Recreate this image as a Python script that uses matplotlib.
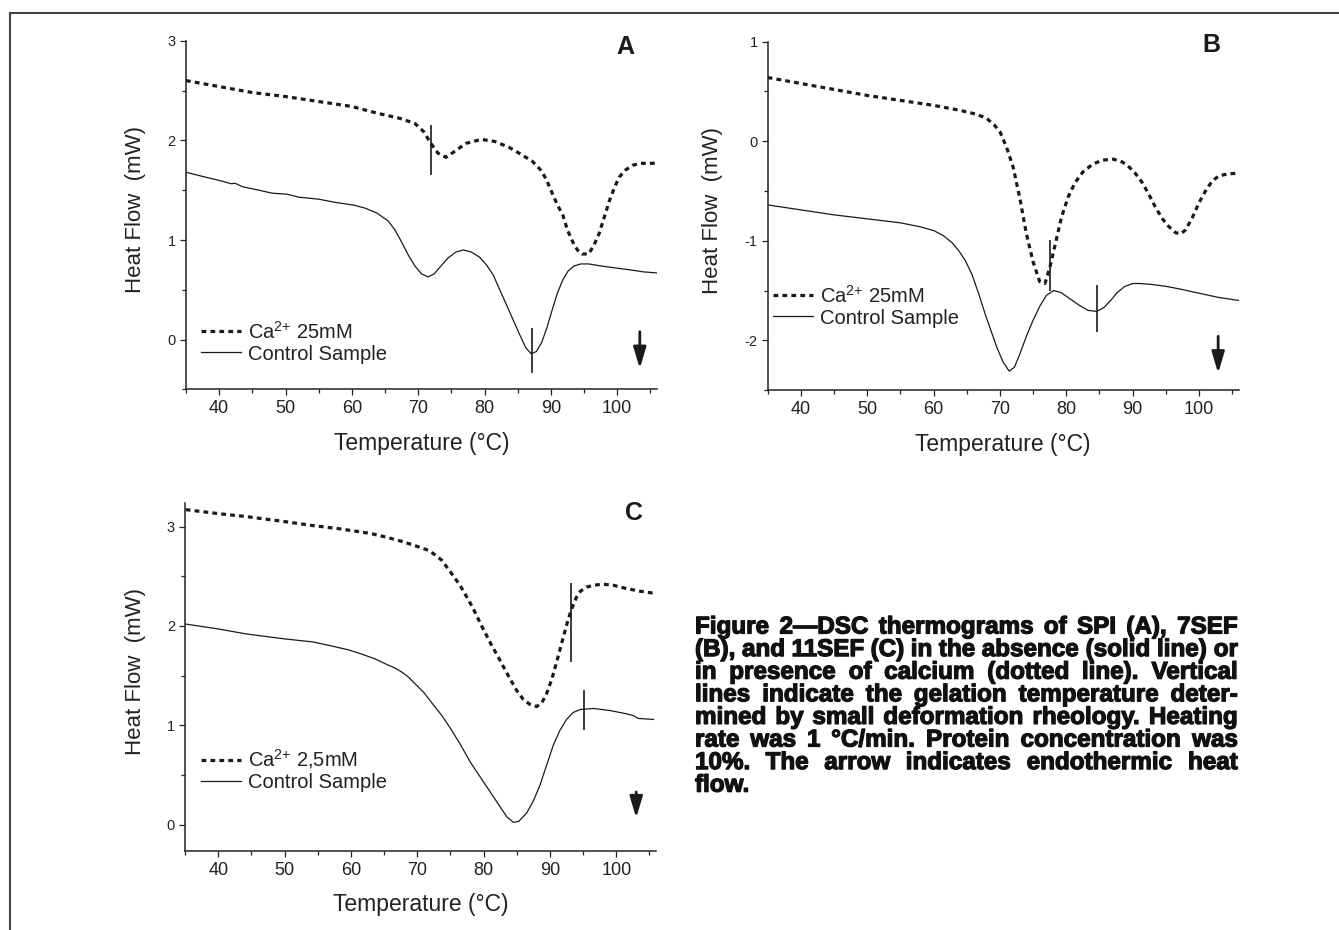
import matplotlib
matplotlib.use("Agg")
import matplotlib.pyplot as plt
import matplotlib.patheffects as pe
from matplotlib.lines import Line2D
from matplotlib.ticker import MultipleLocator

plt.rcParams['font.family'] = ['Liberation Sans', 'DejaVu Sans']
plt.rcParams['mathtext.default'] = 'regular'
plt.rcParams['axes.unicode_minus'] = False

INK = '#1a1a1a'

# ---- Panel A (SPI), Ca2+ 25 mM ----
a_ca_t = [35, 40, 45, 50, 55, 60, 64, 67.3, 69.5, 70.8, 71.9, 73, 74.2, 75.5, 77.2,
          79.5, 81.5, 83.7, 85.5, 87.2, 88.5, 89.3, 90.2, 91, 91.8, 92.5, 93.3, 94,
          94.7, 95.7, 96.5, 97.3, 98, 98.8, 99.6, 100.3, 101.2, 102.3, 103.5, 106]
a_ca_hf = [2.60, 2.54, 2.48, 2.44, 2.39, 2.34, 2.27, 2.22, 2.17, 2.09, 1.97, 1.87, 1.83,
           1.89, 1.97, 2.01, 1.99, 1.93, 1.86, 1.79, 1.70, 1.61, 1.47, 1.35, 1.25, 1.10,
           0.98, 0.90, 0.86, 0.86, 0.95, 1.07, 1.22, 1.39, 1.53, 1.63, 1.70, 1.75, 1.77, 1.77]
a_ctrl_t = [35, 38, 40.5, 41.8, 42.4, 43.5, 46, 48, 50.2, 52, 55, 57.3, 60.3, 62, 63.8,
            65.5, 66.5, 67.5, 68.5, 69.5, 70.5, 71.5, 72.4, 73.3, 74.5, 75.7, 76.8, 78,
            79.2, 80.3, 81.3, 82.3, 83.3, 84.3, 85.3, 86.2, 87, 87.8, 88.6, 89.4, 90.2,
            91, 91.8, 92.6, 93.5, 94.5, 95.7, 97.5, 99.7, 102, 104, 106]
a_ctrl_hf = [1.68, 1.63, 1.59, 1.565, 1.57, 1.535, 1.50, 1.47, 1.46, 1.43, 1.41, 1.38, 1.35,
             1.32, 1.27, 1.19, 1.10, 0.98, 0.85, 0.74, 0.66, 0.63, 0.66, 0.73, 0.82, 0.88,
             0.90, 0.88, 0.83, 0.75, 0.65, 0.50, 0.35, 0.20, 0.05, -0.08, -0.14, -0.12,
             -0.03, 0.12, 0.30, 0.47, 0.60, 0.69, 0.74, 0.76, 0.76, 0.74, 0.72, 0.70, 0.68, 0.67]

# ---- Panel B (7SEF), Ca2+ 25 mM ----
b_ca_t = [35, 40, 45, 50, 55, 60, 64, 66.5, 68, 69.2, 70.05, 71, 72, 73, 74, 75, 76, 76.8,
          77.6, 78.4, 79.3, 80.3, 81.3, 82.5, 84, 85.5, 87.1, 88.5, 89.5, 90.5, 91.5, 92.5,
          93.5, 94.5, 95.5, 96.5, 97.3, 98, 99, 100, 101, 102, 103, 104.2, 106]
b_ca_hf = [0.64, 0.58, 0.52, 0.46, 0.41, 0.36, 0.31, 0.27, 0.23, 0.16, 0.09, -0.06, -0.26,
           -0.57, -0.93, -1.21, -1.41, -1.43, -1.25, -1.02, -0.76, -0.56, -0.42, -0.31,
           -0.23, -0.19, -0.18, -0.21, -0.26, -0.33, -0.42, -0.54, -0.67, -0.78, -0.86,
           -0.92, -0.93, -0.89, -0.77, -0.62, -0.50, -0.40, -0.35, -0.33, -0.32]
b_ctrl_t = [35, 40, 45, 50, 55, 58, 60.1, 61.5, 62.8, 63.8, 64.8, 65.8, 66.8, 67.8, 68.8,
            69.6, 70.5, 71.4, 72.2, 73, 74, 75, 76, 77, 78.1, 79.2, 80.5, 82, 83.3, 84.6,
            85.7, 86.7, 87.7, 88.8, 90, 91.2, 93, 95.2, 97.5, 100.2, 103, 106]
b_ctrl_hf = [-0.64, -0.69, -0.74, -0.78, -0.82, -0.86, -0.90, -0.95, -1.02, -1.10, -1.20,
             -1.34, -1.53, -1.74, -1.93, -2.08, -2.22, -2.31, -2.27, -2.14, -1.96, -1.80,
             -1.66, -1.55, -1.50, -1.52, -1.58, -1.65, -1.70, -1.71, -1.67, -1.60, -1.52,
             -1.46, -1.43, -1.43, -1.44, -1.46, -1.49, -1.53, -1.57, -1.60]

# ---- Panel C (11SEF), Ca2+ 2.5 mM ----
c_ca_t = [35.1, 40, 44.2, 50, 54.2, 58, 63, 65.5, 67.7, 70, 71.7, 72.8, 73.7, 74.7, 75.7,
          76.7, 78.4, 79.7, 81.1, 82.5, 83.8, 85, 86, 87, 88, 88.8, 89.5, 90.3, 91.1, 91.9,
          92.6, 93.2, 94, 94.6, 95.5, 96.6, 98, 99.5, 101.3, 103.5, 105.6]
c_ca_hf = [3.17, 3.13, 3.10, 3.05, 3.01, 2.98, 2.93, 2.89, 2.85, 2.80, 2.76, 2.71, 2.66,
           2.57, 2.48, 2.38, 2.18, 2.00, 1.82, 1.65, 1.49, 1.35, 1.26, 1.21, 1.19, 1.23,
           1.32, 1.47, 1.66, 1.86, 2.03, 2.16, 2.29, 2.35, 2.39, 2.41, 2.42, 2.41, 2.38,
           2.35, 2.33]
c_ctrl_t = [35, 40, 44.2, 50, 54.2, 57, 59.6, 61.5, 63.6, 65.5, 66.7, 67.7, 68.6, 69.5, 71,
            72.5, 73.7, 75, 76.4, 78, 79.8, 81.2, 82.5, 83.5, 84.5, 85.3, 86.5, 87.5, 88.5,
            89.5, 90.5, 91.5, 92.5, 93.5, 94.6, 96.6, 99, 101.3, 102.5, 103.3, 105.6]
c_ctrl_hf = [2.02, 1.97, 1.92, 1.87, 1.84, 1.80, 1.76, 1.72, 1.67, 1.61, 1.575, 1.535, 1.49,
             1.43, 1.33, 1.20, 1.10, 0.97, 0.82, 0.63, 0.45, 0.31, 0.18, 0.08, 0.025, 0.035,
             0.12, 0.24, 0.40, 0.60, 0.80, 0.95, 1.06, 1.13, 1.16, 1.17, 1.15, 1.12, 1.10,
             1.07, 1.06]

# gelation temperatures (vertical markers): [Ca, control] -> T, low, high
a_gel_t, a_gel_lo, a_gel_hi = [71.9, 87.2], [1.65, -0.33], [2.15, 0.12]
b_gel_t, b_gel_lo, b_gel_hi = [77.6, 84.6], [-1.50, -1.92], [-0.99, -1.44]
c_gel_t, c_gel_lo, c_gel_hi = [93.1, 95.1], [1.64, 0.95], [2.43, 1.36]

# endothermic arrow: T, tail, tip
a_arrow = [103.4, 0.08, -0.29]
b_arrow = [102.9, -1.96, -2.33]
c_arrow = [103.0, 0.33, 0.07]

CA_SUP = '$^{2{+}}$'
panels = [
    dict(letter='A', ca_label='Ca' + CA_SUP + ' 25mM', ca=(a_ca_t, a_ca_hf),
         ctrl=(a_ctrl_t, a_ctrl_hf), gel=(a_gel_t, a_gel_lo, a_gel_hi), arrow=a_arrow,
         ylim=(-0.5, 3), yt=[0, 1, 2, 3], rect=[0.1389, 0.5812, 0.3518, 0.3750],
         ylab_x=-0.108, leg=(0.031, 0.136), letter_xy=(0.932, 0.982)),
    dict(letter='B', ca_label='Ca' + CA_SUP + ' 25mM', ca=(b_ca_t, b_ca_hf),
         ctrl=(b_ctrl_t, b_ctrl_hf), gel=(b_gel_t, b_gel_lo, b_gel_hi), arrow=b_arrow,
         ylim=(-2.5, 1), yt=[-2, -1, 0, 1], rect=[0.5733, 0.5806, 0.3518, 0.3746],
         ylab_x=-0.117, leg=(0.011, 0.241), letter_xy=(0.943, 0.99)),
    dict(letter='C', ca_label='Ca' + CA_SUP + ' 2,5mM', ca=(c_ca_t, c_ca_hf),
         ctrl=(c_ctrl_t, c_ctrl_hf), gel=(c_gel_t, c_gel_lo, c_gel_hi), arrow=c_arrow,
         ylim=(-0.26, 3.24), yt=[0, 1, 2, 3], rect=[0.1382, 0.0853, 0.3518, 0.3742],
         ylab_x=-0.106, leg=(0.033, 0.232), letter_xy=(0.953, 0.970)),
]

W, H = 1339, 930
fig = plt.figure(figsize=(W / 100, H / 100), dpi=100)

for p in panels:
    ax = fig.add_axes(p['rect'])
    ax.plot(*p['ca'], color=INK, lw=2.3, dashes=(1.5, 1.3), label=p['ca_label'])
    ax.plot(*p['ctrl'], color=INK, lw=0.9, label='Control Sample')
    ax.vlines(p['gel'][0], p['gel'][1], p['gel'][2], color=INK, lw=1.2)
    t, tail, tip = p['arrow']
    ax.annotate('', xy=(t, tip), xytext=(t, tail),
                arrowprops=dict(arrowstyle='-|>,head_length=0.8,head_width=0.24',
                                lw=2.0, color=INK, mutation_scale=16,
                                shrinkA=0, shrinkB=0))
    ax.set_xlim(35, 106)
    ax.set_ylim(*p['ylim'])
    ax.set_xticks([40, 50, 60, 70, 80, 90, 100])
    ax.xaxis.set_minor_locator(MultipleLocator(5))
    ax.set_yticks(p['yt'])
    ax.yaxis.set_minor_locator(MultipleLocator(0.5))
    for s in ['top', 'right']:
        ax.spines[s].set_visible(False)
    for s in ['left', 'bottom']:
        ax.spines[s].set_linewidth(1.1)
        ax.spines[s].set_color('#222222')
    ax.tick_params(axis='both', which='major', direction='out', length=4.3, width=0.9,
                   color='#222222')
    ax.tick_params(axis='both', which='minor', direction='out', length=3, width=0.9,
                   color='#222222')
    ax.tick_params(axis='x', labelsize=13, pad=3.5, labelcolor='#222222')
    ax.tick_params(axis='y', labelsize=10.5, pad=3, labelcolor='#222222')
    ax.set_xlabel('Temperature (°C)', fontsize=16.5, color='#222222')
    ax.xaxis.set_label_coords(0.5, -0.155)
    ax.xaxis.label.set_va('center')
    ax.set_ylabel('Heat Flow  (mW)', fontsize=16, color='#222222')
    ax.yaxis.set_label_coords(p['ylab_x'], 0.515)
    ax.yaxis.label.set_va('center')
    ax.text(*p['letter_xy'], p['letter'], transform=ax.transAxes, fontsize=18,
            fontweight='bold', ha='center', va='center', color=INK)
    ax.legend(loc='center left', bbox_to_anchor=p['leg'], frameon=False, fontsize=14.5,
              handlelength=2.0, handletextpad=0.35, labelspacing=0.1, borderpad=0,
              borderaxespad=0, labelcolor='#222222')

# page frame (top and left edges)
fig.add_artist(Line2D([0.0078, 1.0], [0.9863, 0.9863], transform=fig.transFigure,
                      color='#444444', lw=1.5))
fig.add_artist(Line2D([0.0078, 0.0078], [0.0, 0.9863], transform=fig.transFigure,
                      color='#444444', lw=1.5))

# justified caption
caption_lines = [
    "Figure 2\u2014DSC thermograms of SPI (A), 7SEF",
    "(B), and 11SEF (C) in the absence (solid line) or",
    "in presence of calcium (dotted line). Vertical",
    "lines indicate the gelation temperature deter-",
    "mined by small deformation rheology. Heating",
    "rate was 1 \u00b0C/min. Protein concentration was",
    "10%. The arrow indicates endothermic heat",
    "flow.",
]
cap_left, cap_right = 695, 1238
cap_top, cap_step = 627, 22.6
CAP_FONT = dict(family=['Liberation Sans', 'DejaVu Sans'], fontweight='bold')
heavy = [pe.withStroke(linewidth=0.9, foreground='#111111')]

fig.canvas.draw()
renderer = fig.canvas.get_renderer()


def word_widths(words, fs):
    widths = []
    for w in words:
        t = fig.text(0, 0, w, fontsize=fs, **CAP_FONT)
        widths.append(t.get_window_extent(renderer).width)
        t.remove()
    return widths


fs0 = 15.0
target = cap_right - cap_left
nat = []
for line in caption_lines[:-1]:
    ws = word_widths(line.split(' '), fs0)
    nat.append(sum(ws) + (len(ws) - 1) * 0.26 * fs0 * 100 / 72)
fs = fs0 * target / max(nat)

for i, line in enumerate(caption_lines):
    words = line.split(' ')
    ws = word_widths(words, fs)
    y = 1 - (cap_top + i * cap_step) / H
    if i == len(caption_lines) - 1:
        gap = 0.26 * fs * 100 / 72
    else:
        gap = (target - sum(ws)) / (len(words) - 1)
    x = cap_left
    for w, wd in zip(words, ws):
        fig.text(x / W, y, w, fontsize=fs, ha='left', va='center', color='#111111',
                 path_effects=heavy, **CAP_FONT)
        x += wd + gap

fig.savefig('out.png', dpi=100)
plt.close(fig)
